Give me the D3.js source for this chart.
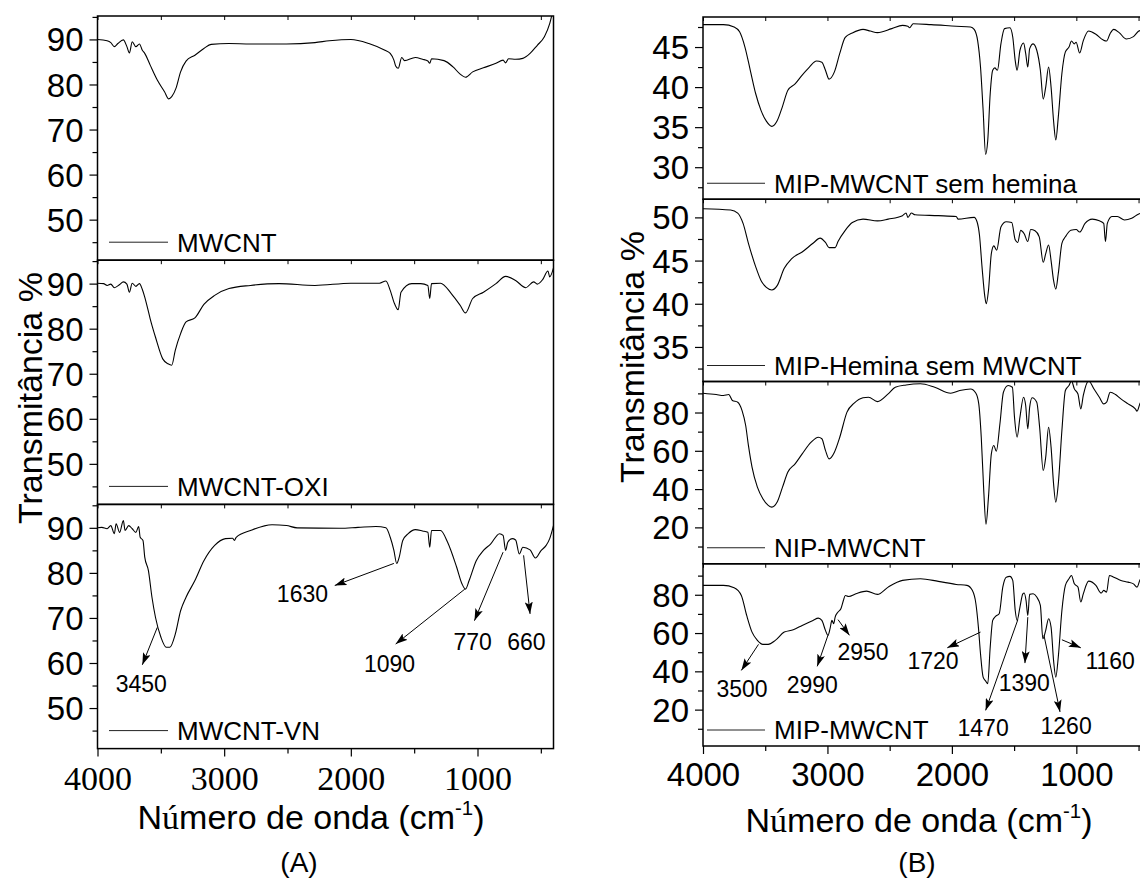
<!DOCTYPE html>
<html>
<head>
<meta charset="utf-8">
<script src="https://cdn.jsdelivr.net/npm/d3@7/dist/d3.min.js"></script>
<style>
  html, body { margin: 0; padding: 0; background: #fff; }
  svg { display: block; }
</style>
</head>
<body>
<svg id="fig" width="1140" height="884"></svg>
<script>
// ---------- FTIR spectra: [wavenumber (cm-1), transmittance (%)] ----------
const mwcnt = [[4000,90],[3924,89.7],[3895,89.3],[3867,88.4],[3839,89.1],[3796,89.9],[3768,88.4],[3748,87.0],[3726,89.5],[3697,88.4],[3669,89.0],[3646,87.6],[3627,86.9],[3584,84.3],[3528,81.0],[3471,78.4],[3437,76.8],[3414,77.3],[3380,79.2],[3344,82.8],[3301,85.2],[3231,86.5],[3160,88.0],[3103,88.9],[2962,89.1],[2792,89.0],[2509,89.0],[2283,89.3],[2170,89.7],[2000,90.0],[1858,89.1],[1731,87.6],[1689,86.9],[1660,85.4],[1646,84.1],[1626,83.6],[1598,86.0],[1576,85.3],[1491,86.0],[1434,85.6],[1392,85.2],[1377,84.7],[1363,85.7],[1264,85.3],[1193,83.9],[1137,82.3],[1095,81.6],[1038,82.8],[953,83.7],[854,84.7],[798,85.4],[778,84.8],[755,85.7],[699,85.6],[642,85.8],[585,86.9],[528,88.7],[472,90.6],[430,93.5],[400,97]];

const mwcntOxi = [[4000,90.1],[3952,90.0],[3924,89.6],[3895,89.9],[3867,89.1],[3825,89.8],[3796,90.4],[3768,89.9],[3748,88.1],[3726,90.1],[3697,89.4],[3669,90.0],[3646,88.7],[3627,87.0],[3612,85.4],[3584,82.2],[3542,78.1],[3485,73.3],[3443,72.2],[3414,71.9],[3386,75.2],[3344,78.9],[3301,81.5],[3231,82.4],[3160,85.4],[3075,87.4],[2962,88.9],[2792,89.6],[2566,90.0],[2283,89.6],[2000,90.1],[1774,90.1],[1723,90.6],[1689,88.5],[1660,85.9],[1626,84.2],[1604,88.1],[1519,90.0],[1448,90.0],[1392,89.6],[1377,86.7],[1363,90.0],[1292,90.1],[1207,87.8],[1137,85.2],[1095,83.5],[1038,86.7],[953,88.1],[854,90.0],[778,91.6],[699,90.7],[619,89.1],[557,90.4],[528,89.9],[486,90.9],[444,92.8],[430,91.5],[400,93.5]];

const mwcntVn = [[4000,90.0],[3966,90.1],[3924,89.8],[3895,90.5],[3867,88.7],[3853,90.9],[3825,89.0],[3796,91.6],[3782,89.4],[3754,90.5],[3726,89.8],[3697,89.0],[3675,90.3],[3663,87.9],[3641,87.2],[3627,83.5],[3598,80.5],[3570,74.6],[3542,70.1],[3499,65.7],[3457,63.5],[3429,63.5],[3386,66.4],[3344,71.6],[3301,74.6],[3231,78.3],[3160,82.7],[3075,86.1],[2990,87.6],[2934,87.7],[2919,87.2],[2905,87.9],[2792,89.4],[2622,90.7],[2509,90.5],[2424,90.0],[2085,89.9],[1943,90.1],[1802,90.3],[1723,90.0],[1689,87.9],[1660,85.0],[1638,82.1],[1618,83.5],[1590,87.2],[1547,88.7],[1491,89.6],[1434,89.3],[1392,89.0],[1377,85.7],[1363,89.4],[1292,89.4],[1236,86.8],[1165,81.3],[1123,77.6],[1095,76.4],[1066,78.3],[1010,82.7],[953,85.0],[897,86.4],[826,88.7],[798,88.3],[778,85.0],[761,86.8],[727,87.6],[699,87.3],[670,84.2],[642,85.7],[585,85.1],[543,83.3],[500,84.9],[458,86.1],[430,87.6],[400,90.5]];

const mipSemHemina = [[4000,47.8],[3836,47.8],[3750,47.5],[3706,46.9],[3663,45.0],[3620,42.1],[3577,39.2],[3534,37.1],[3491,35.75],[3447,35.1],[3404,35.8],[3361,37.6],[3318,39.6],[3260,40.4],[3203,41.5],[3145,42.5],[3088,43.25],[3045,43.1],[3016,42.1],[2987,41.0],[2944,41.9],[2901,44.2],[2857,46.2],[2800,46.75],[2714,47.2],[2656,47.0],[2598,46.8],[2483,47.3],[2397,47.7],[2354,47.6],[2340,47.4],[2311,47.9],[2167,47.8],[1965,47.6],[1850,47.5],[1821,47.2],[1793,45.8],[1770,42.5],[1749,37.1],[1729,31.6],[1712,33.3],[1692,39.2],[1672,42.1],[1655,42.4],[1634,42.1],[1606,45.4],[1577,47.3],[1534,47.4],[1511,46.25],[1491,43.3],[1476,42.1],[1453,44.6],[1424,45.5],[1407,44.2],[1390,42.5],[1375,44.8],[1347,45.4],[1318,44.6],[1289,42.1],[1266,38.5],[1246,40.0],[1223,42.5],[1203,40.0],[1183,35.8],[1165,33.4],[1145,36.25],[1116,41.7],[1088,44.4],[1059,45.0],[1039,45.75],[1016,45.4],[1002,45.6],[973,44.25],[944,45.8],[901,47.0],[843,46.6],[786,45.9],[757,45.75],[728,46.7],[699,47.2],[656,46.8],[598,46.0],[541,46.3],[498,47.0],[475,47.1],[400,47.5]];

const mipHeminaSemMwcnt = [[4000,51.0],[3778,50.85],[3721,50.5],[3678,49.3],[3635,47.0],[3577,44.3],[3534,42.7],[3491,41.9],[3447,41.6],[3404,42.1],[3347,44.1],[3289,45.2],[3203,46.0],[3116,47.0],[3059,47.6],[3016,47.1],[2987,46.5],[2938,46.5],[2915,47.2],[2857,48.5],[2800,49.4],[2714,49.8],[2598,49.6],[2512,49.8],[2397,50.2],[2368,50.5],[2354,50.0],[2325,50.5],[2296,50.3],[2109,50.2],[1965,50.1],[1951,49.8],[1821,50.0],[1798,49.5],[1778,47.9],[1758,44.3],[1735,40.8],[1724,40.0],[1706,41.55],[1683,45.8],[1663,46.7],[1640,46.2],[1606,48.9],[1563,49.5],[1519,49.4],[1491,47.4],[1471,47.1],[1447,48.5],[1419,48.1],[1390,47.2],[1367,48.6],[1332,48.45],[1298,47.75],[1266,44.8],[1246,45.8],[1223,46.8],[1203,45.0],[1183,42.7],[1165,41.7],[1145,43.5],[1116,47.0],[1088,47.75],[1044,48.5],[1001,48.6],[973,48.3],[930,49.3],[872,49.8],[815,49.6],[780,49.3],[766,47.2],[751,49.3],[714,50.1],[670,50.1],[613,49.7],[555,49.9],[498,50.4],[475,50.5],[400,50.8]];

const nipMwcnt = [[4000,90.1],[3894,89.4],[3836,88.9],[3793,89.4],[3764,86.3],[3721,85.4],[3686,81.0],[3657,73.2],[3635,62.8],[3606,51.5],[3563,41.0],[3519,35.0],[3476,31.5],[3447,30.6],[3404,33.2],[3361,41.0],[3318,48.9],[3260,53.2],[3203,58.4],[3131,64.5],[3073,67.1],[3045,66.3],[3016,60.2],[2987,55.8],[2944,59.3],[2901,67.1],[2843,80.2],[2785,84.9],[2714,87.7],[2670,88.0],[2598,85.7],[2512,89.7],[2455,93.2],[2368,94.4],[2253,95.0],[2138,93.2],[2009,90.1],[1937,91.5],[1850,92.3],[1807,90.1],[1784,84.5],[1764,67.1],[1744,39.3],[1726,21.6],[1706,35.8],[1683,58.4],[1663,62.8],[1643,59.8],[1614,74.1],[1586,90.6],[1548,94.1],[1514,93.2],[1497,77.6],[1476,67.1],[1453,77.6],[1424,88.0],[1407,83.65],[1390,71.5],[1375,82.8],[1355,87.7],[1318,85.4],[1295,72.3],[1266,49.7],[1246,56.7],[1223,72.3],[1203,61.9],[1183,42.8],[1165,33.2],[1145,42.8],[1116,70.6],[1088,91.5],[1059,94.1],[1039,96.5],[1016,92.35],[987,89.7],[964,81.9],[944,88.9],[901,96.5],[858,92.3],[815,88.0],[780,84.5],[757,85.4],[728,90.6],[685,89.4],[642,87.1],[584,84.5],[526,81.9],[512,80.7],[483,85.4],[400,87]];

const mipMwcnt = [[4000,84.9],[3836,84.9],[3750,83.65],[3692,79.65],[3649,69.2],[3606,60.5],[3563,56.2],[3519,54.1],[3476,54.1],[3419,56.2],[3347,60.5],[3275,61.7],[3203,64.0],[3116,66.6],[3073,67.8],[3045,66.6],[3016,61.4],[2996,58.8],[2979,62.3],[2964,66.6],[2950,64.9],[2938,68.3],[2915,71.0],[2892,72.7],[2872,77.0],[2857,79.65],[2829,79.1],[2771,80.5],[2685,81.9],[2598,80.2],[2512,84.0],[2397,87.5],[2253,88.35],[2109,87.0],[1965,85.4],[1879,84.9],[1836,82.3],[1807,75.3],[1787,63.1],[1770,49.2],[1749,37.0],[1729,35.0],[1712,33.6],[1692,52.7],[1672,66.6],[1649,68.7],[1620,70.1],[1591,84.0],[1563,89.2],[1534,89.6],[1511,87.5],[1491,71.8],[1476,66.6],[1453,73.6],[1430,80.5],[1419,80.9],[1404,77.0],[1390,69.2],[1375,80.2],[1347,80.5],[1318,78.8],[1289,74.4],[1269,57.0],[1246,61.4],[1223,67.5],[1203,63.1],[1183,45.7],[1165,37.0],[1145,47.5],[1116,71.8],[1088,84.9],[1059,88.35],[1039,90.1],[1016,85.7],[987,84.0],[964,76.2],[944,80.5],[901,87.1],[843,84.9],[800,80.9],[780,82.3],[757,81.4],[734,90.1],[699,89.2],[642,87.5],[584,86.6],[541,85.7],[512,84.0],[483,88.35],[400,89]];

// ---------- legend names ----------
const namesA = ["MWCNT", "MWCNT-OXI", "MWCNT-VN"];
const namesB = ["MIP-MWCNT sem hemina", "MIP-Hemina sem MWCNT", "NIP-MWCNT", "MIP-MWCNT"];

// ---------- tick values ----------
const xMajor = [4000, 3000, 2000, 1000];
const xMinor = [3500, 2500, 1500, 500];
const yMajorA = [50, 60, 70, 80, 90];
const yMinorA = [45, 55, 65, 75, 85, 95];
const yMajorB1 = [30, 35, 40, 45];
const yMinorB1 = [27.5, 32.5, 37.5, 42.5, 47.5];
const yMajorB2 = [35, 40, 45, 50];
const yMinorB2 = [32.5, 37.5, 42.5, 47.5];
const yMajorB34 = [20, 40, 60, 80];
const yMinorB34 = [10, 30, 50, 70, 90];

// ---------- band assignments: arrow from a point near the band to the label ----------
// peak: labelled wavenumber; from/to: arrow ends; at: label centre (data units)
const bandsVn = [
  { peak: 3450, from: [3528, 67.9], to: [3646, 59.6], at: [3654, 55.4] },
  { peak: 1630, from: [1660, 82.1], to: [2127, 77.2], at: [2382, 75.3] },
  { peak: 1090, from: [1100, 76.4], to: [1646, 64.2], at: [1694, 59.8] },
  { peak: 770,  from: [798, 84.6],  to: [1024, 69.4], at: [1038, 64.8] },
  { peak: 660,  from: [636, 83.9],  to: [585, 70.9],  at: [614, 64.8] }
];
const bandsMip = [
  { peak: 3500, from: [3554, 54.1], to: [3692, 40.5], at: [3686, 31.0] },
  { peak: 2990, from: [2996, 58.8], to: [3082, 42.6], at: [3122, 32.8] },
  { peak: 2950, from: [2915, 67.0], to: [2823, 58.8], at: [2714, 50.0] },
  { peak: 1720, from: [1770, 60.5], to: [2037, 52.3], at: [2152, 45.8] },
  { peak: 1470, from: [1470, 67.0], to: [1729, 19.6], at: [1749, 10.8] },
  { peak: 1390, from: [1390, 68.3], to: [1413, 44.3], at: [1418, 34.2] },
  { peak: 1260, from: [1260, 58.8], to: [1131, 18.8], at: [1082, 11.4] },
  { peak: 1160, from: [1116, 56.5], to: [964, 52.3],  at: [728, 45.4] }
];

// ---------- drawing ----------
const SANS = "'Liberation Sans', Arial, Helvetica, sans-serif";
const SERIF = "'Liberation Serif', 'Times New Roman', serif";
const svg = d3.select("#fig");

const defs = svg.append("defs");
defs.append("marker")
  .attr("id", "arrowhead")
  .attr("viewBox", "0 0 12 8")
  .attr("refX", 12).attr("refY", 4)
  .attr("markerWidth", 12).attr("markerHeight", 8)
  .attr("markerUnits", "userSpaceOnUse")
  .attr("orient", "auto")
  .append("path")
  .attr("d", "M0,0 L12,4 L0,8 L2.5,4 Z")
  .attr("fill", "#000");

function drawPanel(p, id) {
  const x = d3.scaleLinear().domain([4000, 400]).range([p.left, p.right]);
  const g = svg.append("g");

  p.rows.forEach((row, i) => {
    const top = p.top + i * p.rowH;
    const bottom = top + p.rowH;
    const y = d3.scaleLinear().domain(row.domain).range([bottom, top]);

    const clipId = `clip-${id}-${i}`;
    defs.append("clipPath").attr("id", clipId)
      .append("rect").attr("x", p.left).attr("y", top)
      .attr("width", p.right - p.left).attr("height", p.rowH);

    // spectrum
    const line = d3.line()
      .x(d => x(d[0])).y(d => y(d[1]))
      .curve(d3.curveMonotoneX);
    g.append("path")
      .datum(row.data)
      .attr("clip-path", `url(#${clipId})`)
      .attr("d", line)
      .attr("fill", "none")
      .attr("stroke", "#000")
      .attr("stroke-width", 1.1)
      .attr("stroke-linejoin", "round");

    // small ticks hanging from the top edge of each stacked layer
    g.append("g")
      .attr("transform", `translate(0,${top})`)
      .call(d3.axisBottom(x).tickValues(xMajor.concat(xMinor)).tickSize(4).tickFormat(""))
      .call(s => s.select(".domain").remove())
      .selectAll("line").attr("stroke-width", 1);

    // y axis: major with labels, minor without
    const yAx = g.append("g")
      .attr("transform", `translate(${p.left},0)`)
      .call(d3.axisLeft(y).tickValues(row.major).tickSize(8).tickPadding(p.tickPad).tickFormat(d3.format("d")));
    yAx.select(".domain").remove();
    yAx.selectAll("line").attr("stroke-width", 1.2);
    yAx.selectAll("text")
      .attr("font-family", SANS)
      .attr("font-size", p.tickFont)
      .attr("fill", "#000")
      .attr("dy", "0.35em");

    const yMin = g.append("g")
      .attr("transform", `translate(${p.left},0)`)
      .call(d3.axisLeft(y).tickValues(row.minor).tickSize(5).tickFormat(""));
    yMin.select(".domain").remove();
    yMin.selectAll("line").attr("stroke-width", 1.2);

    // frame
    g.append("rect")
      .attr("x", p.left).attr("y", top)
      .attr("width", p.right - p.left).attr("height", p.rowH)
      .attr("fill", "none").attr("stroke", "#000").attr("stroke-width", 1.5);

    // legend entry
    const ly = top + p.rowH - p.legendOffset;
    g.append("line")
      .attr("x1", p.legendX0).attr("x2", p.legendX1)
      .attr("y1", ly).attr("y2", ly)
      .attr("stroke", "#222").attr("stroke-width", 1);
    g.append("text")
      .attr("x", p.legendText).attr("y", ly)
      .attr("dy", "0.36em")
      .attr("font-family", SANS).attr("font-size", p.legendFont)
      .text(row.name);

    // band annotations
    (row.bands || []).forEach(b => {
      g.append("line")
        .attr("x1", x(b.from[0])).attr("y1", y(b.from[1]))
        .attr("x2", x(b.to[0])).attr("y2", y(b.to[1]))
        .attr("stroke", "#000").attr("stroke-width", 1)
        .attr("marker-end", "url(#arrowhead)");
      g.append("text")
        .attr("x", x(b.at[0])).attr("y", y(b.at[1]))
        .attr("dy", "0.36em")
        .attr("text-anchor", "middle")
        .attr("font-family", SANS).attr("font-size", p.bandFont)
        .text(String(b.peak));
    });
  });

  // x axis at the bottom of the stack
  const bottomY = p.top + p.rows.length * p.rowH;
  const xAx = g.append("g")
    .attr("transform", `translate(0,${bottomY})`)
    .call(d3.axisBottom(x).tickValues(xMajor).tickSize(8).tickPadding(p.xTickPad).tickFormat(d3.format("d")));
  xAx.select(".domain").remove();
  xAx.selectAll("line").attr("stroke-width", 1.2);
  xAx.selectAll("text")
    .attr("font-family", p.xTickFamily)
    .attr("font-size", p.xTickFont)
    .attr("fill", "#000");
  const xMin = g.append("g")
    .attr("transform", `translate(0,${bottomY})`)
    .call(d3.axisBottom(x).tickValues(xMinor).tickSize(5).tickFormat(""));
  xMin.select(".domain").remove();
  xMin.selectAll("line").attr("stroke-width", 1.2);

  // x axis title
  const t = g.append("text")
    .attr("x", p.xTitleX).attr("y", p.xTitleY)
    .attr("text-anchor", "middle")
    .attr("font-family", SANS).attr("font-size", p.titleFont);
  t.append("tspan").text("N");
  t.append("tspan").attr("font-family", SERIF).text("ú");
  t.append("tspan").text("mero de onda (cm");
  t.append("tspan").attr("font-size", p.titleFont * 0.6).attr("dy", -p.titleFont * 0.42).text("-1");
  t.append("tspan").attr("dy", p.titleFont * 0.42).text(")");

  // y axis title
  g.append("text")
    .attr("transform", `translate(${p.yTitleX},${p.yTitleY}) rotate(-90)`)
    .attr("text-anchor", "middle")
    .attr("font-family", SANS).attr("font-size", p.titleFont)
    .text("Transmitância %");

  // panel letter
  g.append("text")
    .attr("x", p.letterX).attr("y", p.letterY)
    .attr("text-anchor", "middle")
    .attr("font-family", SANS).attr("font-size", 28)
    .text(p.letter);
}

drawPanel({
  left: 97.5, right: 553.5, top: 16, rowH: 244.2,
  tickFont: 33, tickPad: 6, xTickFont: 34, xTickFamily: SERIF, xTickPad: 9,
  legendX0: 109, legendX1: 168, legendText: 177, legendOffset: 18, legendFont: 26,
  bandFont: 23, titleFont: 34,
  xTitleX: 311, xTitleY: 829, yTitleX: 42, yTitleY: 398,
  letter: "(A)", letterX: 299, letterY: 872,
  rows: [
    { name: namesA[0], data: mwcnt,    domain: [41, 95.2], major: yMajorA, minor: yMinorA },
    { name: namesA[1], data: mwcntOxi, domain: [41, 95.2], major: yMajorA, minor: yMinorA },
    { name: namesA[2], data: mwcntVn,  domain: [41, 95.2], major: yMajorA, minor: yMinorA, bands: bandsVn }
  ]
}, "a");

drawPanel({
  left: 703, right: 1151, top: 17, rowH: 182.25,
  tickFont: 33, tickPad: 6, xTickFont: 33, xTickFamily: SANS, xTickPad: 9,
  legendX0: 707, legendX1: 765, legendText: 774, legendOffset: 16, legendFont: 26,
  bandFont: 23, titleFont: 34,
  xTitleX: 919, xTitleY: 832, yTitleX: 644, yTitleY: 357,
  letter: "(B)", letterX: 917, letterY: 872,
  rows: [
    { name: namesB[0], data: mipSemHemina,      domain: [26, 48.75], major: yMajorB1,  minor: yMinorB1 },
    { name: namesB[1], data: mipHeminaSemMwcnt, domain: [31, 52.1],  major: yMajorB2,  minor: yMinorB2 },
    { name: namesB[2], data: nipMwcnt,          domain: [1, 96.2],   major: yMajorB34, minor: yMinorB34 },
    { name: namesB[3], data: mipMwcnt,          domain: [1, 96.2],   major: yMajorB34, minor: yMinorB34, bands: bandsMip }
  ]
}, "b");
</script>
</body>
</html>
